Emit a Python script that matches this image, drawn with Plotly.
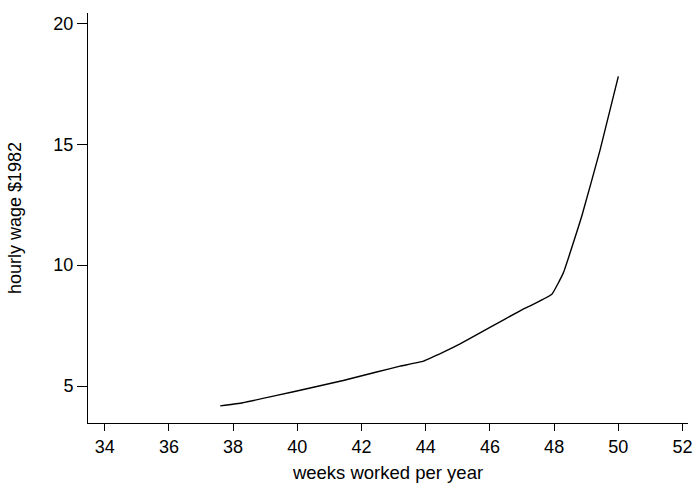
import plotly.graph_objects as go

weeks = [37.6, 38.3, 39.36, 40.4, 41.43, 42.47, 43.2, 43.93, 44.55, 45.07, 46.0, 46.94, 47.93, 48.29, 48.86, 49.43, 50.0]
wage = [4.18, 4.31, 4.61, 4.92, 5.23, 5.58, 5.82, 6.03, 6.40, 6.74, 7.43, 8.11, 8.80, 9.69, 12.02, 14.76, 17.81]

x_ticks = [34, 36, 38, 40, 42, 44, 46, 48, 50, 52]
y_ticks = [5, 10, 15, 20]

fig = go.Figure()
fig.add_trace(go.Scatter(x=weeks, y=wage, mode="lines",
                         line=dict(color="black", width=1.4, shape="spline", smoothing=0.3),
                         showlegend=False, hoverinfo="skip"))

font = dict(family="Liberation Sans, Arial, sans-serif", size=18, color="black")
fig.update_layout(
    width=693, height=485,
    margin=dict(l=88, r=5, t=13, b=62),
    paper_bgcolor="white", plot_bgcolor="white",
    font=font,
    xaxis=dict(range=[33.48, 52.17], tickvals=x_ticks, ticks="outside", ticklen=7,
               tickwidth=1, tickcolor="black", showline=True, linecolor="black",
               linewidth=1, showgrid=False, zeroline=False, automargin=False,
               tickfont=font, ticklabeloverflow="allow",
               title=dict(text="weeks worked per year", font=dict(font, size=18.5), standoff=10)),
    yaxis=dict(range=[3.47, 20.43], tickvals=y_ticks, ticks="outside", ticklen=10,
               tickwidth=1, tickcolor="black", showline=True, linecolor="black",
               linewidth=1, showgrid=False, zeroline=False, automargin=False,
               tickfont=font,
               title=dict(text="hourly wage $1982", font=font, standoff=27)),
)
fig.write_html("out.html", config={"displayModeBar": False},
               post_script="document.body.style.margin='0';document.body.style.overflow='hidden';")
